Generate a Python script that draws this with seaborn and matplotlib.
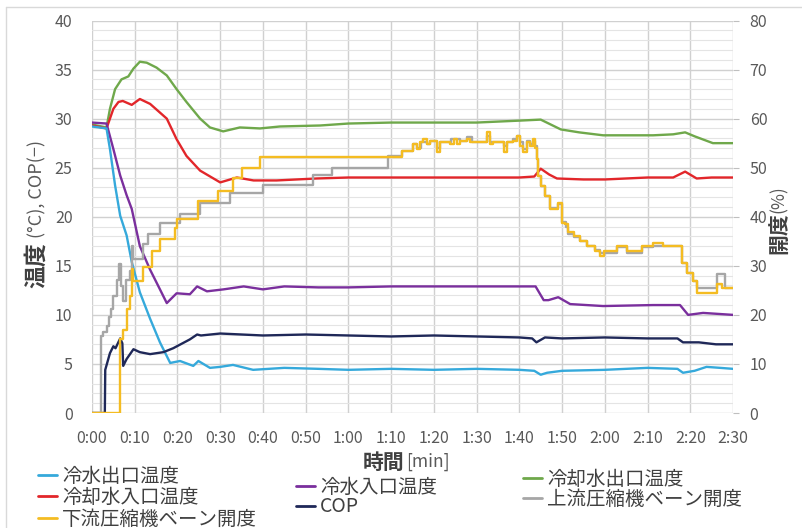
import matplotlib
matplotlib.use("Agg")
import matplotlib.pyplot as plt
from matplotlib.ticker import MultipleLocator
from matplotlib.lines import Line2D
import numpy as np
import pandas as pd
import seaborn as sns

sns.set_style("white")
plt.rcParams['font.family'] = ['Noto Sans CJK JP', 'DejaVu Sans']

# ---------------- data (time in seconds) ----------------
tick_seconds = [0, 10, 20, 30, 40, 50, 60, 70, 80, 90, 100, 110, 120, 130, 140, 150]
tick_labels = ["0:00", "0:10", "0:20", "0:30", "0:40", "0:50", "1:00", "1:10",
               "1:20", "1:30", "1:40", "1:50", "2:00", "2:10", "2:20", "2:30"]

# 冷水出口温度 (°C)
t_chw_out = [0, 3.4, 4.2, 5.4, 6.6, 8.1, 9.3, 11.2, 13.6, 15.9, 18.3, 20.6, 23.7, 24.9,
             27.6, 30, 33, 37.7, 45, 53, 60, 70, 80, 90, 100, 103.5, 105, 106.5, 110,
             120, 130, 137, 138.3, 141, 143.8, 147, 150]
v_chw_out = [29.2, 29.0, 26.9, 23.2, 20.1, 18.1, 15.4, 12.3, 9.6, 7.2, 5.1, 5.3, 4.8, 5.3,
             4.6, 4.7, 4.9, 4.4, 4.6, 4.5, 4.4, 4.5, 4.4, 4.5, 4.4, 4.3, 3.9, 4.1, 4.3,
             4.4, 4.6, 4.5, 4.1, 4.3, 4.7, 4.6, 4.5]

# 冷却水入口温度 (°C)
t_cw_in = [0, 3.4, 5.0, 6.2, 7.2, 9.3, 11.2, 13.6, 17.5, 19.8, 22.1, 25.3, 30, 33.9, 37.8,
           43.2, 52.6, 60, 70, 80, 90, 100, 103.5, 105, 107, 108.8, 115, 120, 130, 136,
           138.8, 141.5, 145, 150]
v_cw_in = [29.3, 29.0, 31.0, 31.7, 31.8, 31.4, 32.0, 31.5, 30.0, 27.9, 26.2, 24.7, 23.5,
           24.0, 23.7, 23.7, 23.9, 24.0, 24.0, 24.0, 24.0, 24.0, 24.1, 24.9, 24.3, 23.9,
           23.8, 23.8, 24.0, 24.0, 24.6, 23.9, 24.0, 24.0]

# 冷水入口温度 (°C)
t_chw_in = [0, 3.4, 5.0, 6.6, 8.1, 9.3, 11.2, 13.6, 15.9, 17.5, 19.8, 22.9, 24.6, 26.9,
            30.8, 35.5, 40, 45, 53, 60, 70, 80, 90, 100, 103.8, 105.7, 106.8, 109.1,
            111.9, 119.6, 131.3, 137.6, 139.5, 143, 150]
v_chw_in = [29.6, 29.5, 26.9, 24.2, 22.2, 20.8, 17.0, 14.6, 12.6, 11.2, 12.2, 12.1, 12.9,
            12.4, 12.6, 12.9, 12.6, 12.9, 12.8, 12.8, 12.9, 12.9, 12.9, 12.9, 12.9, 11.5,
            11.5, 11.8, 11.1, 10.9, 11.0, 11.0, 10.0, 10.2, 10.0]

# COP (-)
t_cop = [0, 3.0, 3.1, 4.2, 5.0, 5.5, 6.6, 7.1, 7.3, 8.1, 9.7, 11.2, 13.6, 16.7, 19.0,
         22.9, 24.6, 25.5, 30, 40, 50, 60, 70, 80, 90, 100, 103, 104, 106, 110, 120,
         130, 137, 138.3, 142, 146, 150]
v_cop = [0, 0, 4.4, 6.1, 6.8, 6.6, 7.6, 7.1, 4.8, 5.5, 6.5, 6.2, 6.0, 6.2, 6.6, 7.5,
         8.0, 7.9, 8.1, 7.9, 8.0, 7.9, 7.8, 7.9, 7.8, 7.7, 7.6, 7.2, 7.7, 7.6, 7.7,
         7.6, 7.6, 7.2, 7.2, 7.0, 7.0]

# 冷却水出口温度 (°C)
t_cw_out = [0, 3.4, 4.2, 5.4, 6.9, 8.5, 9.7, 11.2, 12.8, 15.1, 17.5, 19.8, 22.1, 25.3,
            27.6, 30.7, 34.6, 39.3, 44, 53.4, 60, 70, 80, 90, 100.2, 105, 109.7, 114,
            119.6, 131.3, 136, 138.8, 141, 145.3, 150]
v_cw_out = [29.4, 29.1, 31.0, 33.0, 34.0, 34.3, 35.1, 35.8, 35.7, 35.2, 34.4, 33.0, 31.7,
            30.0, 29.1, 28.7, 29.1, 29.0, 29.2, 29.3, 29.5, 29.6, 29.6, 29.6, 29.8, 29.9,
            28.9, 28.6, 28.3, 28.3, 28.4, 28.6, 28.2, 27.5, 27.5]

# 下流圧縮機ベーン開度 (%) - step values
t_vane_down = [0, 6.6, 7.3, 8.1, 8.9, 9.3, 9.7, 12.0, 14.0, 15.9, 19.4, 20.0, 24.9, 29.6,
               33.1, 35.0, 39.3, 72.5, 75.2, 76.0, 76.8, 77.5, 78.3, 79.1, 80.7, 81.4,
               83.8, 84.6, 85.3, 86.1, 87.7, 88.5, 92.4, 93.1, 93.9, 96.3, 97.0, 98.6,
               99.4, 100.2, 100.9, 101.7, 102.5, 103.1, 103.7, 104.1, 104.4, 105.0,
               106.1, 107.2, 109.1, 109.9, 110.8, 111.5, 112.7, 114.2, 115.8, 117.7,
               118.9, 119.7, 122.8, 125.1, 128.6, 131.3, 133.7, 138.0, 138.4, 139.2,
               140.7, 141.5, 146.2, 147.4, 150]
v_vane_down = [0, 15.0, 17.0, 21.1, 23.8, 29.3, 26.9, 29.8, 33.0, 35.4, 37.8, 39.5, 43.2,
               45.3, 48.0, 50.0, 52.1, 53.4, 54.8, 53.8, 55.2, 55.8, 54.8, 55.5, 53.1,
               55.2, 54.8, 55.8, 54.8, 55.5, 55.8, 55.2, 57.2, 54.8, 55.2, 53.1, 55.2,
               55.5, 56.5, 54.5, 53.1, 55.2, 54.5, 55.8, 54.1, 51.8, 48.3, 46.3, 44.2,
               41.5, 42.9, 38.8, 38.5, 36.8, 36.1, 35.1, 34.0, 33.0, 32.0, 33.0, 34.0,
               33.0, 34.0, 34.7, 34.0, 30.6, 30.6, 28.6, 26.9, 24.5, 26.2, 25.5, 25.5]

# 上流圧縮機ベーン開度 (%) - step values
t_vane_up = [0, 2.0, 2.6, 3.4, 3.9, 4.4, 5.0, 5.8, 6.4, 6.8, 7.3, 8.0, 8.9, 9.3, 9.7,
             12.0, 13.2, 15.9, 20.6, 25.3, 32.3, 40.1, 51.8, 56.1, 69.3, 72.5, 75.2,
             76.0, 77.0, 78.3, 79.1, 80.7, 81.4, 84.0, 86.1, 87.7, 89.0, 92.4, 93.1,
             96.3, 97.0, 98.6, 99.4, 100.2, 100.9, 101.7, 102.5, 103.1, 103.7, 104.1,
             104.4, 105.0, 106.1, 107.2, 109.1, 109.9, 111.0, 111.5, 112.7, 114.2,
             115.8, 117.7, 118.9, 122.8, 125.1, 128.6, 131.3, 138.0, 139.2, 140.7,
             141.5, 146.2, 148.1, 150]
v_vane_up = [0, 15.6, 16.5, 17.8, 19.5, 21.1, 23.8, 27.2, 30.4, 25.9, 22.8, 27.2, 28.9,
             34.0, 31.3, 34.4, 36.4, 38.7, 40.5, 42.9, 44.9, 46.5, 48.5, 50.0, 52.4, 53.4,
             54.8, 54.1, 55.2, 54.8, 55.5, 54.1, 55.2, 55.8, 55.5, 56.2, 55.2, 56.5,
             55.2, 54.5, 55.2, 55.8, 56.5, 55.2, 53.8, 55.5, 54.8, 55.5, 54.5, 51.8,
             48.3, 46.3, 44.2, 41.8, 42.5, 39.0, 38.0, 36.5, 35.8, 35.1, 34.0, 33.3,
             32.6, 33.8, 32.6, 33.8, 34.0, 30.6, 28.6, 26.9, 25.5, 28.3, 25.5, 25.5]

name_chw_out = "冷水出口温度"
name_cw_in = "冷却水入口温度"
name_vane_down = "下流圧縮機ベーン開度"
name_chw_in = "冷水入口温度"
name_cop = "COP"
name_cw_out = "冷却水出口温度"
name_vane_up = "上流圧縮機ベーン開度"

colors = {
    name_chw_out: "#35A9DB",
    name_cw_in: "#E2262A",
    name_vane_down: "#F4BC22",
    name_chw_in: "#7A2F9D",
    name_cop: "#1F2858",
    name_cw_out: "#6FA84B",
    name_vane_up: "#A6A6A6",
}


def frame(name, t, v):
    return pd.DataFrame({"t": t, "value": v, "series": name})


left_df = pd.concat([
    frame(name_cw_out, t_cw_out, v_cw_out),
    frame(name_cw_in, t_cw_in, v_cw_in),
    frame(name_chw_in, t_chw_in, v_chw_in),
    frame(name_chw_out, t_chw_out, v_chw_out),
    frame(name_cop, t_cop, v_cop),
], ignore_index=True)
right_df = pd.concat([
    frame(name_vane_up, t_vane_up, v_vane_up),
    frame(name_vane_down, t_vane_down, v_vane_down),
], ignore_index=True)

# ---------------- figure ----------------
W, H = 803, 528
fig = plt.figure(figsize=(W / 100, H / 100), dpi=100)
x0, x1, ytop, ybot = 92, 733, 20.5, 413
ax = fig.add_axes([x0 / W, 1 - ybot / H, (x1 - x0) / W, (ybot - ytop) / H])
ax2 = ax.twinx()

left_order = [name_cw_out, name_cw_in, name_chw_in, name_chw_out, name_cop]
sns.lineplot(data=left_df, x="t", y="value", hue="series", hue_order=left_order,
             palette=colors, estimator=None, sort=False, ax=ax, linewidth=1.7,
             legend=False)
sns.lineplot(data=right_df, x="t", y="value", hue="series",
             hue_order=[name_vane_up, name_vane_down], palette=colors,
             estimator=None, sort=False, ax=ax2, linewidth=1.7, legend=False,
             drawstyle="steps-post")

ax.set_xlim(0, 150)
ax.set_ylim(0, 40)
ax2.set_ylim(0, 80)
ax.set_xticks(tick_seconds, tick_labels)
ax.set_yticks(range(0, 41, 5))
ax.yaxis.set_minor_locator(MultipleLocator(1))
ax2.set_yticks(range(0, 81, 10))

ax.grid(which="major", color="#D0D0D0", linewidth=1.0)
ax.grid(which="minor", axis="y", color="#E4E4E4", linewidth=0.8)
ax.set_axisbelow(True)
ax2.grid(False)

for a in (ax, ax2):
    for s in a.spines.values():
        s.set_visible(False)
    a.set_xlabel("")
    a.set_ylabel("")

tick_color = "#595959"
ax.tick_params(axis="both", which="both", length=0, labelsize=11.5,
               labelcolor=tick_color)
ax.tick_params(axis="y", pad=14)
ax.tick_params(axis="x", pad=12)
ax2.tick_params(axis="y", which="major", length=4, color="#BFBFBF", width=0.8,
                pad=8, labelsize=11.5, labelcolor=tick_color)
ax2.tick_params(axis="y", which="minor", length=0)

# ---------------- axis titles ----------------
dark = "#404040"
fig.text(37 / W, 1 - 288 / H, "温度", rotation=90, ha="center", va="bottom",
         fontsize=16.5, fontweight="bold", color=dark)
fig.text(37 / W, 1 - 238 / H, "(°C), COP(−)", rotation=90, ha="center", va="bottom",
         fontsize=13, color="#595959")
fig.text(779 / W, 1 - 254 / H, "開度", rotation=90, ha="center", va="bottom",
         fontsize=15, fontweight="bold", color=dark)
fig.text(779 / W, 1 - 213 / H, "(%)", rotation=90, ha="center", va="bottom",
         fontsize=12.5, color="#595959")
fig.text(404 / W, 1 - 462 / H, "時間", ha="right", va="center",
         fontsize=15, fontweight="bold", color=dark)
fig.text(406 / W, 1 - 462 / H, "[min]", ha="left", va="center",
         fontsize=12.5, color="#595959")

# ---------------- legend (Excel-like 3 columns) ----------------
legend_slots = [
    (name_chw_out, 38, 476), (name_cw_in, 38, 497), (name_vane_down, 38, 519),
    (name_chw_in, 296, 487), (name_cop, 296, 507),
    (name_cw_out, 523, 479), (name_vane_up, 523, 499),
]
for name, lx, ly in legend_slots:
    h = Line2D([], [], color=colors[name], linewidth=2)
    fig.legend(handles=[h], labels=[name], loc="center left",
               bbox_to_anchor=(lx / W, 1 - ly / H), frameon=False, fontsize=14,
               handlelength=1.0, handletextpad=0.25, borderpad=0, borderaxespad=0,
               labelcolor=dark)

# chart area border (top & left visible)
fig.add_artist(Line2D([6.5 / W, 1], [1 - 6.5 / H, 1 - 6.5 / H], color="#D9D9D9",
                      linewidth=1, transform=fig.transFigure))
fig.add_artist(Line2D([6.5 / W, 6.5 / W], [0, 1 - 6.5 / H], color="#D9D9D9",
                      linewidth=1, transform=fig.transFigure))

fig.savefig("out.png", dpi=100, facecolor="white")
